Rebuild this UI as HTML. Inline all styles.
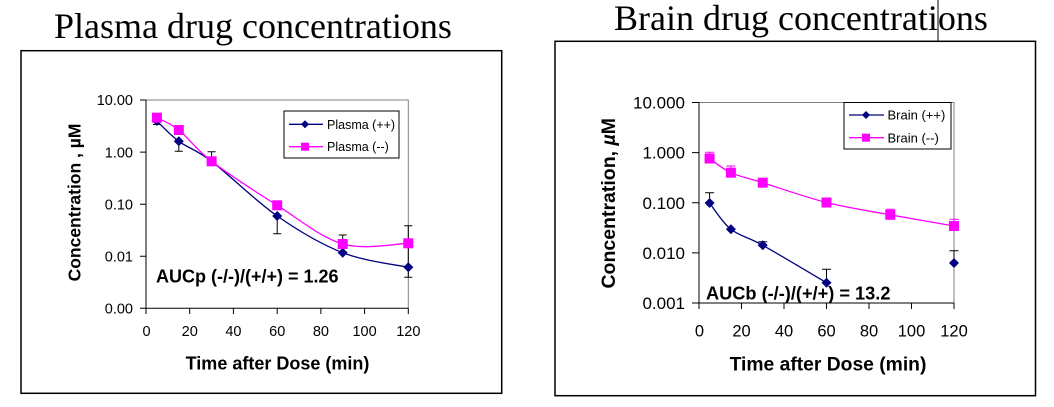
<!DOCTYPE html>
<html><head><meta charset="utf-8"><style>
html,body{margin:0;padding:0;background:#fff;}
svg{display:block;}
.s{font-family:"Liberation Serif",serif;}
.a{font-family:"Liberation Sans",Arial,sans-serif;}
</style></head><body>
<svg width="1054" height="407" viewBox="0 0 1054 407" xmlns="http://www.w3.org/2000/svg">
<rect width="1054" height="407" fill="#fff"/>
<!-- ============ LEFT CHART ============ -->
<text class="s" x="54" y="38" font-size="36" fill="#000">Plasma drug concentrations</text>
<rect x="21" y="50.7" width="480.7" height="342.6" fill="none" stroke="#000" stroke-width="1.5"/>
<!-- plot frame -->
<path d="M146 100 H408.3 V308.3" fill="none" stroke="#808080" stroke-width="1"/>
<path d="M146 100 V308.3 H408.3" fill="none" stroke="#000" stroke-width="1"/>
<!-- y ticks -->
<g stroke="#000" stroke-width="1">
<path d="M140 100H146M140 152.1H146M140 204.2H146M140 256.2H146M140 308.3H146"/>
<path d="M146 308.3V314M189.7 308.3V314M233.4 308.3V314M277.2 308.3V314M320.9 308.3V314M364.6 308.3V314M408.3 308.3V314"/>
</g>
<g class="a" font-size="14.5" fill="#000" text-anchor="end">
<text x="133" y="105.2">10.00</text>
<text x="133" y="157.3">1.00</text>
<text x="133" y="209.4">0.10</text>
<text x="133" y="261.4">0.01</text>
<text x="133" y="313.5">0.00</text>
</g>
<g class="a" font-size="14.5" fill="#000" text-anchor="middle">
<text x="146.5" y="336">0</text>
<text x="189.7" y="336">20</text>
<text x="233.4" y="336">40</text>
<text x="277.2" y="336">60</text>
<text x="320.9" y="336">80</text>
<text x="364.6" y="336">100</text>
<text x="408.3" y="336">120</text>
</g>
<text class="a" x="277.5" y="369.3" font-size="18" font-weight="bold" text-anchor="middle" fill="#000">Time after Dose (min)</text>
<text class="a" transform="translate(80.7,202.5) rotate(-90)" font-size="17.5" font-weight="bold" text-anchor="middle" fill="#000">Concentration , µM</text>
<text class="a" x="156" y="282.3" font-size="18" font-weight="bold" fill="#000">AUCp (-/-)/(+/+) = 1.26</text>
<!-- error bars -->
<g stroke="#000" stroke-width="1" fill="none">
<path d="M156.9 121V124.5M152.9 124.5H160.9"/>
<path d="M178.8 141.3V151.3M174.8 151.3H182.8"/>
<path d="M178.8 130V125.5M174.8 125.5H182.8"/>
<path d="M211.6 161.3V151.7M207.6 151.7H215.6"/>
<path d="M277.2 216V233.8M273.2 233.8H281.2"/>
<path d="M277.2 205.3V202M273.2 202H281.2"/>
<path d="M342.7 252.7V235M338.7 235H346.7"/>
<path d="M408.3 225.7V277.3M404.3 225.7H412.3M404.3 277.3H412.3"/>
</g>
<!-- series ++ -->
<path d="M156.9 121 C160.55 124.38 169.68 134.58 178.8 141.3 C187.92 148.02 195.2 148.85 211.6 161.3 C228 173.75 255.35 200.77 277.2 216 C299.05 231.23 320.85 244.15 342.7 252.7 C364.55 261.25 397.37 264.87 408.3 267.3" fill="none" stroke="#000080" stroke-width="1.3"/>
<!-- series -- -->
<path d="M156.9 117.7 C160.55 119.75 169.68 122.73 178.8 130 C187.92 137.27 195.2 148.75 211.6 161.3 C228 173.85 255.35 191.52 277.2 205.3 C299.05 219.08 320.85 237.67 342.7 244 C364.55 250.33 397.37 243.42 408.3 243.3" fill="none" stroke="#ff00ff" stroke-width="1.3"/>
<g fill="#000080">
<path d="M156.9 116 l5 5 l-5 5 l-5 -5z"/>
<path d="M178.8 136.3 l5 5 l-5 5 l-5 -5z"/>
<path d="M211.6 156.3 l5 5 l-5 5 l-5 -5z"/>
<path d="M277.2 211 l5 5 l-5 5 l-5 -5z"/>
<path d="M342.7 247.7 l5 5 l-5 5 l-5 -5z"/>
<path d="M408.3 262.3 l5 5 l-5 5 l-5 -5z"/>
</g>
<g fill="#ff00ff">
<rect x="151.9" y="112.7" width="10" height="10"/>
<rect x="173.8" y="125" width="10" height="10"/>
<rect x="206.6" y="156.3" width="10" height="10"/>
<rect x="272.2" y="200.3" width="10" height="10"/>
<rect x="337.7" y="239" width="10" height="10"/>
<rect x="403.3" y="238.3" width="10" height="10"/>
</g>
<!-- legend -->
<rect x="284" y="111" width="115" height="47" fill="#fff" stroke="#000" stroke-width="1"/>
<path d="M289 124.3H323" stroke="#000080" stroke-width="1.3"/>
<path d="M305 120.3 l4 4 l-4 4 l-4 -4z" fill="#000080"/>
<path d="M289 146.7H323" stroke="#ff00ff" stroke-width="1.3"/>
<rect x="301" y="142.7" width="8" height="8" fill="#ff00ff"/>
<text class="a" x="327" y="128.8" font-size="12.5" fill="#000">Plasma (++)</text>
<text class="a" x="327" y="151.2" font-size="12.5" fill="#000">Plasma (--)</text>

<!-- ============ RIGHT CHART ============ -->
<text class="s" x="614" y="30" font-size="36" fill="#000">Brain drug concentrations</text>
<path d="M938 0V41.3" stroke="#000" stroke-width="1"/>
<rect x="555" y="41.3" width="480.5" height="354.4" fill="none" stroke="#000" stroke-width="1.5"/>
<path d="M699 102.5 H954 V303" fill="none" stroke="#808080" stroke-width="1"/>
<path d="M699 102.5 V303 H954" fill="none" stroke="#000" stroke-width="1"/>
<g stroke="#000" stroke-width="1">
<path d="M692 102.5H699M692 152.6H699M692 202.75H699M692 252.9H699M692 303H699"/>
<path d="M699 303V309M741.5 303V309M784 303V309M826.5 303V309M869 303V309M911.5 303V309M954 303V309"/>
</g>
<g class="a" font-size="17" fill="#000" text-anchor="end">
<text x="685" y="108.5">10.000</text>
<text x="685" y="158.6">1.000</text>
<text x="685" y="208.75">0.100</text>
<text x="685" y="258.9">0.010</text>
<text x="685" y="309">0.001</text>
</g>
<g class="a" font-size="16.5" fill="#000" text-anchor="middle">
<text x="699.5" y="336.7">0</text>
<text x="741.5" y="336.7">20</text>
<text x="784" y="336.7">40</text>
<text x="826.5" y="336.7">60</text>
<text x="869" y="336.7">80</text>
<text x="911.5" y="336.7">100</text>
<text x="954" y="336.7">120</text>
</g>
<text class="a" x="828" y="370.7" font-size="19.3" font-weight="bold" text-anchor="middle" fill="#000">Time after Dose (min)</text>
<text class="a" transform="translate(615,203.3) rotate(-90)" font-size="19.5" font-weight="bold" text-anchor="middle" fill="#000">Concentration, <tspan font-style="italic">µ</tspan>M</text>
<!-- error bars -->
<g stroke="#000" stroke-width="1" fill="none">
<path d="M709.6 203V192.7M705.1 192.7H714.1"/>
<path d="M762.75 245.3V241.7M758.25 241.7H767.25"/>
<path d="M826.5 282.7V269.3M822 269.3H831"/>
<path d="M954 263V250.7M949.5 250.7H958.5"/>
</g>
<g stroke="#ff00ff" stroke-width="1" fill="none">
<path d="M709.6 158.5V152.3M705.1 152.3H714.1"/>
<path d="M730.9 172.7V166M726.4 166H735.4"/>
<path d="M762.75 182.7V178.5M758.25 178.5H767.25"/>
<path d="M826.5 202.5V199M822 199H831"/>
<path d="M890.25 214.8V209.3M885.75 209.3H894.75"/>
<path d="M954 226V219.3M949.5 219.3H958.5"/>
</g>
<path d="M709.6 203 C713.15 207.38 722.04 222.25 730.9 229.3 C739.76 236.35 746.82 236.4 762.75 245.3 C778.68 254.2 815.87 276.47 826.5 282.7" fill="none" stroke="#000080" stroke-width="1.3"/>
<path d="M709.6 158.5 C713.15 160.87 722.04 168.67 730.9 172.7 C739.76 176.73 746.82 177.73 762.75 182.7 C778.68 187.67 805.25 197.15 826.5 202.5 C847.75 207.85 869 210.88 890.25 214.8 C911.5 218.72 943.37 224.13 954 226" fill="none" stroke="#ff00ff" stroke-width="1.3"/>
<g fill="#000080">
<path d="M709.6 198 l5 5 l-5 5 l-5 -5z"/>
<path d="M730.9 224.3 l5 5 l-5 5 l-5 -5z"/>
<path d="M762.75 240.3 l5 5 l-5 5 l-5 -5z"/>
<path d="M826.5 277.7 l5 5 l-5 5 l-5 -5z"/>
<path d="M954 258 l5 5 l-5 5 l-5 -5z"/>
</g>
<g fill="#ff00ff">
<rect x="704.6" y="153.5" width="10" height="10"/>
<rect x="725.9" y="167.7" width="10" height="10"/>
<rect x="757.75" y="177.7" width="10" height="10"/>
<rect x="821.5" y="197.5" width="10" height="10"/>
<rect x="885.25" y="209.8" width="10" height="10"/>
<rect x="949" y="221" width="10" height="10"/>
</g>
<text class="a" x="706" y="299.3" font-size="18.2" font-weight="bold" fill="#000">AUCb (-/-)/(+/+) = 13.2</text>
<!-- legend -->
<rect x="844" y="102.5" width="107" height="46.5" fill="#fff" stroke="#000" stroke-width="1"/>
<path d="M849 115H884" stroke="#000080" stroke-width="1.3"/>
<path d="M866 111 l4 4 l-4 4 l-4 -4z" fill="#000080"/>
<path d="M849 137.7H884" stroke="#ff00ff" stroke-width="1.3"/>
<rect x="862" y="133.7" width="8" height="8" fill="#ff00ff"/>
<text class="a" x="887.5" y="119.7" font-size="13" fill="#000">Brain (++)</text>
<text class="a" x="887.5" y="142.4" font-size="13" fill="#000">Brain (--)</text>
</svg>
</body></html>
